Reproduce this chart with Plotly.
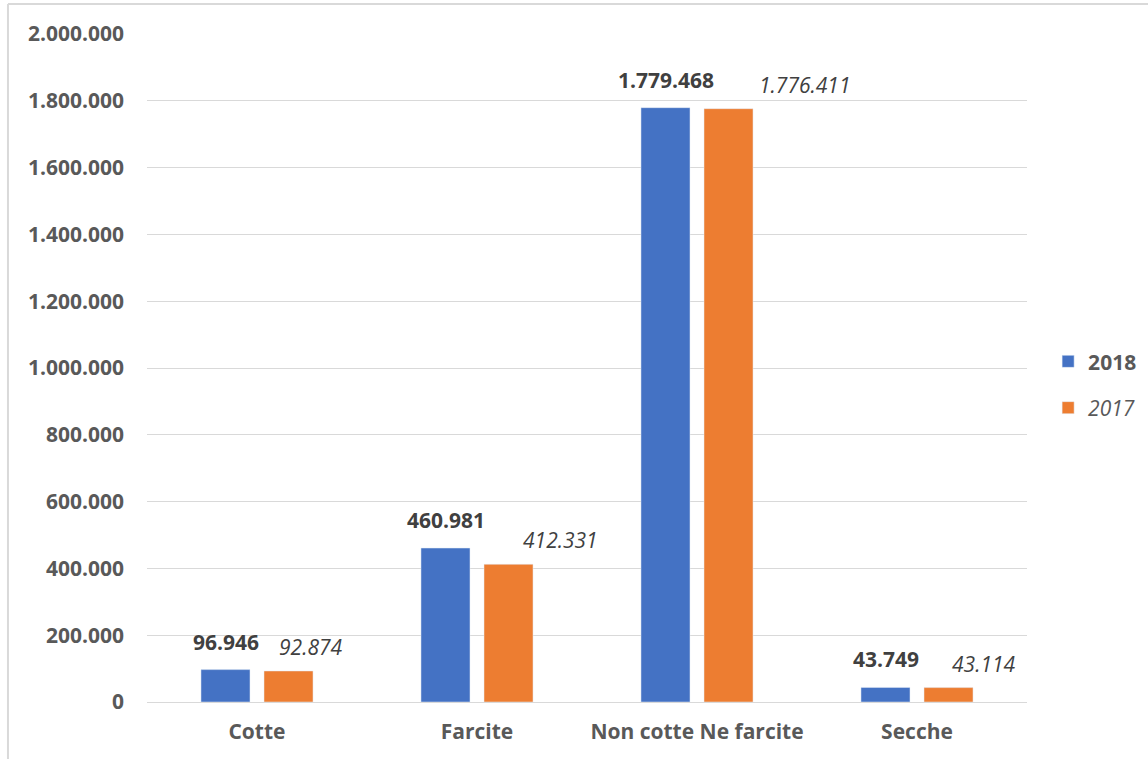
import plotly.graph_objects as go

categories = ["Cotte", "Farcite", "Non cotte Ne farcite", "Secche"]
values_2018 = [96946, 460981, 1779468, 43749]
values_2017 = [92874, 412331, 1776411, 43114]
label_2018 = ["96.946", "460.981", "1.779.468", "43.749"]
label_2017 = ["92.874", "412.331", "1.776.411", "43.114"]
# manual horizontal nudges of the 2017 labels (pixels)
nudge_2017 = [22, 52, 76, 35]

BLUE = "#4472C4"
ORANGE = "#ED7D31"
FONT = "Open Sans"
FS = 21

fig = go.Figure()
fig.add_trace(go.Bar(x=categories, y=values_2018, name="<b>2018</b>",
                     marker=dict(color=BLUE), legendgroup="a"))
fig.add_trace(go.Bar(x=categories, y=values_2017, name="<i>2017</i>",
                     marker=dict(color=ORANGE), legendgroup="b"))

bar_off = 31.5
for c, v, t in zip(categories, values_2018, label_2018):
    fig.add_annotation(x=c, y=v, text="<b>" + t + "</b>", showarrow=False,
                       xshift=-bar_off, yshift=12, yanchor="bottom",
                       font=dict(family=FONT, size=FS, color="#404040"))
for c, v, t, n in zip(categories, values_2017, label_2017, nudge_2017):
    fig.add_annotation(x=c, y=v, text="<i>" + t + "</i>", showarrow=False,
                       xshift=bar_off + n, yshift=8, yanchor="bottom",
                       font=dict(family=FONT, size=FS, color="#404040"))

# outer chart frame (left and top edges visible)
fig.add_shape(type="line", xref="paper", yref="paper", x0=-0.158, x1=-0.158,
              y0=-0.2, y1=1.0449, line=dict(color="#d9d9d9", width=2))
fig.add_shape(type="line", xref="paper", yref="paper", x0=-0.158, x1=1.2,
              y0=1.0449, y1=1.0449, line=dict(color="#d9d9d9", width=2))

fig.update_layout(
    width=1148, height=759,
    margin=dict(l=147, r=121, t=34, b=57, autoexpand=False),
    plot_bgcolor="white", paper_bgcolor="white",
    separators=",.",
    barmode="group", bargap=0.427, bargroupgap=0.222,
    font=dict(family=FONT, color="#595959"),
    showlegend=True,
    legend=dict(x=1.024, y=0.475, xanchor="left", yanchor="middle",
                tracegroupgap=16,
                font=dict(family=FONT, size=FS, color="#595959")),
)
fig.update_yaxes(range=[0, 2000000], dtick=200000, tickformat=",d",
                 showgrid=True, gridcolor="#d9d9d9", gridwidth=1,
                 zeroline=True, zerolinecolor="#d9d9d9", zerolinewidth=1,
                 showline=False, ticks="", ticklabelstandoff=22,
                 tickfont=dict(family=FONT, size=FS, color="#595959"),
                 tickprefix="<b>", ticksuffix="</b>")
fig.update_xaxes(showgrid=False, showline=False, ticks="",
                 tickfont=dict(family=FONT, size=FS, color="#595959"),
                 tickprefix="<b>", ticksuffix="</b>", ticklabelstandoff=15)

fig.write_html("out.html", config={"displayModeBar": False},
               post_script="document.body.style.margin='0';document.body.style.overflow='hidden';")
